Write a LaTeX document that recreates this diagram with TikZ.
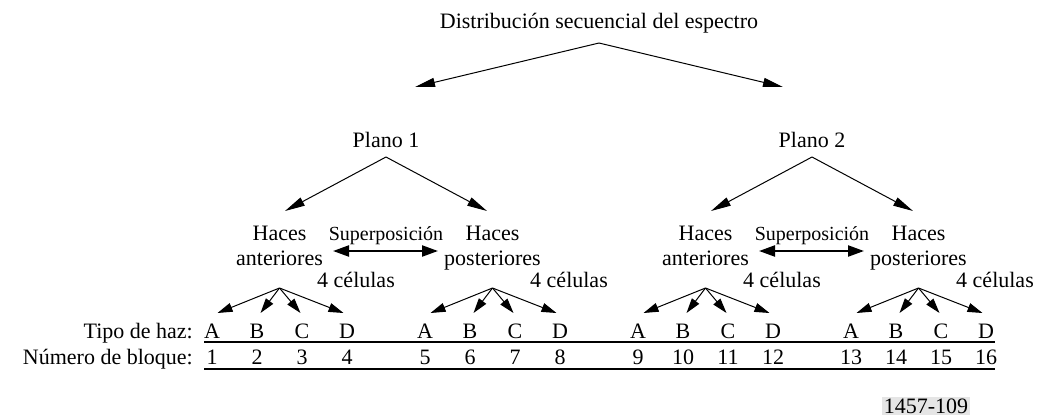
\documentclass[tikz,border=0pt]{standalone}
\usepackage{fontspec}
\setmainfont{Liberation Serif}
\usetikzlibrary{arrows.meta}
\begin{document}
\begin{tikzpicture}[x=1pt,y=-1pt,
  lbl/.style={font=\fontsize{22}{25}\selectfont, inner sep=0pt, anchor=base},
  small/.style={font=\fontsize{20}{24}\selectfont, inner sep=0pt, anchor=base},
  conn/.style={line width=1pt, -{Triangle[length=20pt,width=9pt]}},
  fan/.style={line width=1pt, -{Triangle[length=15pt,width=9pt]}},
  dbl/.style={line width=2.2pt, {Triangle[length=16pt,width=11pt]}-{Triangle[length=16pt,width=11pt]}},
  rowrule/.style={line width=1.8pt}]
\useasboundingbox (0,0) rectangle (1041,418);
% title
\node[lbl] (title) at (599,28) {Distribución secuencial del espectro};
\coordinate (ta) at (599,43);
\coordinate (ta1) at (415,87);
\coordinate (ta2) at (783,87);
\draw[conn] (ta) -- (ta1);
\draw[conn] (ta) -- (ta2);
% planes
\node[lbl] (plano1) at (386,147) {Plano 1};
\node[lbl] (plano2) at (812,147) {Plano 2};
\foreach \p/\x in {1/386,2/812}{
  \coordinate (pa\p) at (\x,157);
  \coordinate (pl\p) at (\x-101,211);
  \coordinate (pr\p) at (\x+101,211);
  \draw[conn] (pa\p) -- (pl\p);
  \draw[conn] (pa\p) -- (pr\p);
  \node[small] (sup\p) at (\x,240) {Superposición};
  \coordinate (sl\p) at (\x-53,251);
  \coordinate (sr\p) at (\x+52,251);
  \draw[dbl] (sl\p) -- (sr\p);
}
% clusters
\foreach \i/\c/\w in {1/279.5/anteriores,2/492.5/posteriores,3/705.5/anteriores,4/918.5/posteriores}{
  \node[lbl, anchor=north, align=center] (h\i) at (\c,225.5) {Haces\\\w};
  \node[lbl] (cel\i) at (\c+76.5,287) {4 células};
  \coordinate (f\i) at (\c,288);
  \foreach \L/\dx/\tx [count=\k] in {A/-67.5/-62,B/-22.5/-19,C/22.5/21,D/67.5/64}{
    \pgfmathtruncatemacro\n{4*(\i-1)+\k}
    \node[lbl] (t\i\L) at (\c+\dx,338) {\L};
    \node[lbl] (n\n) at (\c+\dx,364) {\n};
    \coordinate (ft\i\L) at (\c+\tx,313);
    \draw[fan] (f\i) -- (ft\i\L);
  }
}
% row labels
\node[lbl, anchor=base east] (tipo) at (193,338) {Tipo de haz:};
\node[lbl, anchor=base east] (num) at (193,364) {Número de bloque:};
\coordinate (r1a) at (204,342);
\coordinate (r1b) at (995,342);
\coordinate (r2a) at (204,369);
\coordinate (r2b) at (995,369);
\draw[rowrule] (r1a) -- (r1b);
\draw[rowrule] (r2a) -- (r2b);
% figure number
\node[fill=black!10, inner sep=2pt, font=\fontsize{22}{25}\selectfont] (fig) at (926,406) {1457-109};
\end{tikzpicture}
\end{document}
